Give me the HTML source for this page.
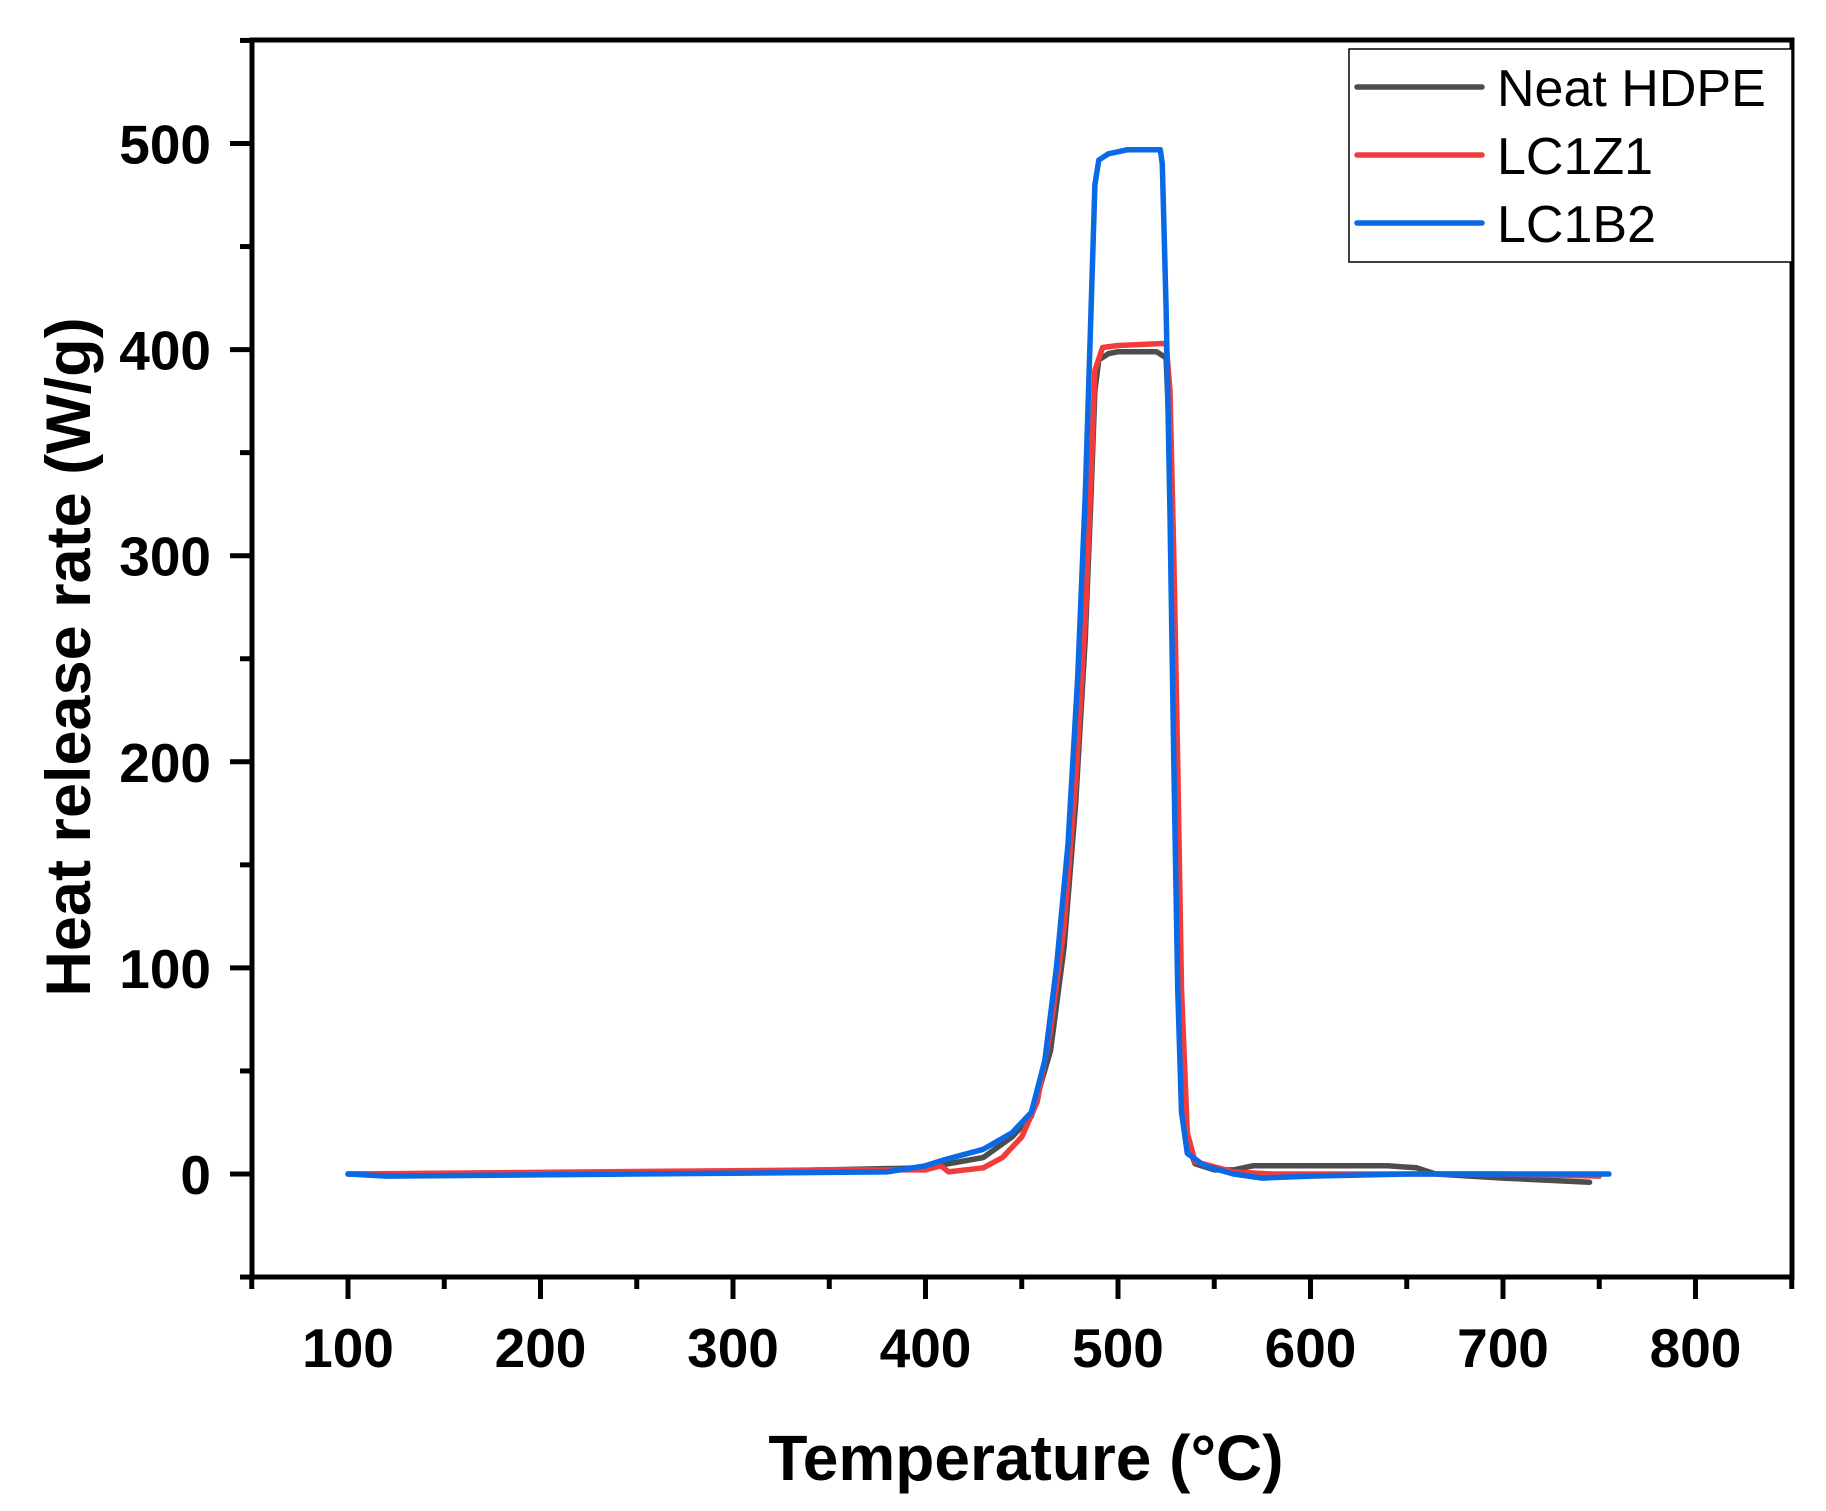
<!DOCTYPE html>
<html><head><meta charset="utf-8"><style>
html,body{margin:0;padding:0;background:#fff;}
svg{display:block;font-family:"Liberation Sans",Arial,sans-serif;}
</style></head><body>
<svg id="s" width="1826" height="1511" viewBox="0 0 1826 1511" xmlns="http://www.w3.org/2000/svg">
<rect width="1826" height="1511" fill="#fff"/>
<g id="curves" fill="none" stroke-width="5.5" stroke-linejoin="round" stroke-linecap="round"></g>
<rect x="252" y="40" width="1540" height="1237" fill="none" stroke="#000" stroke-width="5"/>
<g id="ticks" stroke="#000" stroke-width="5"></g>
<g id="labels" font-weight="bold" font-size="55" fill="#000"></g>
<text x="1026" y="1480" font-size="64" font-weight="bold" text-anchor="middle">Temperature (°C)</text>
<text transform="translate(90,657) rotate(-90)" font-size="63" font-weight="bold" text-anchor="middle">Heat release rate (W/g)</text>
<rect x="1349" y="49" width="443" height="213" fill="#fff" stroke="#000" stroke-width="1.5"/>
<g stroke-width="5.5" stroke-linecap="round">
<line x1="1357" y1="87" x2="1482" y2="87" stroke="#4d4d4d"/>
<line x1="1357" y1="155" x2="1482" y2="155" stroke="#f23c3c"/>
<line x1="1357" y1="223" x2="1482" y2="223" stroke="#0a6ae6"/>
</g>
<g font-size="52" fill="#000">
<text x="1497" y="106">Neat HDPE</text>
<text x="1497" y="174">LC1Z1</text>
<text x="1497" y="242">LC1B2</text>
</g>
</svg>
<script>
var NS="http://www.w3.org/2000/svg";
function X(v){return 348+(v-100)*1.925;}
function Y(v){return 1174-v*2.061;}
function el(t,a,p){var e=document.createElementNS(NS,t);for(var k in a)e.setAttribute(k,a[k]);p.appendChild(e);return e;}
var tk=document.getElementById('ticks'),lb=document.getElementById('labels'),cv=document.getElementById('curves');
for(var v=50;v<=850;v+=50){var x=X(v),maj=v%100==0;el('line',{x1:x,y1:1277,x2:x,y2:1277+(maj?22:12)},tk);
 if(maj&&v>=100&&v<=800){var t=el('text',{x:x,y:1367,'text-anchor':'middle'},lb);t.textContent=v;}}
for(var v=-50;v<=550;v+=50){var y=Y(v),maj=v%100==0;el('line',{x1:252,y1:y,x2:252-(maj?22:12),y2:y},tk);
 if(maj&&v>=0&&v<=500){var t=el('text',{x:211,y:y+20,'text-anchor':'end'},lb);t.textContent=v;}}
var data={
'#4d4d4d':[100,0,300,1,400,3,430,8,445,18,455,28,465,60,472,110,478,180,483,260,486,330,488,380,490,395,495,398,500,399,520,399,525,396,527,350,529,250,531,150,533,60,536,15,540,5,550,2,560,2,570,4,580,4,640,4,655,3,665,0,700,-2,745,-4],
'#f23c3c':[100,0,350,2,400,2,408,4,412,1,430,3,440,8,450,18,458,35,465,70,472,120,478,190,483,270,486,340,488,390,492,401,500,402,525,403,527,380,529,300,531,200,533,90,536,20,540,6,560,1,580,0,700,0,750,-1],
'#0a6ae6':[100,0,120,-1,380,1,400,4,410,7,430,12,445,20,455,30,462,55,468,100,474,160,479,240,483,330,486,420,488,480,490,492,495,495,505,497,522,497,523,490,525,420,527,320,529,200,531,90,533,30,536,10,545,4,560,0,575,-2,600,-1,650,0,700,0,755,0]};
for(var c in data){var d=data[c],p=[];for(var i=0;i<d.length;i+=2)p.push(X(d[i]).toFixed(1)+','+Y(d[i+1]).toFixed(1));
 el('polyline',{points:p.join(' '),stroke:c},cv);}
</script>
</body></html>
